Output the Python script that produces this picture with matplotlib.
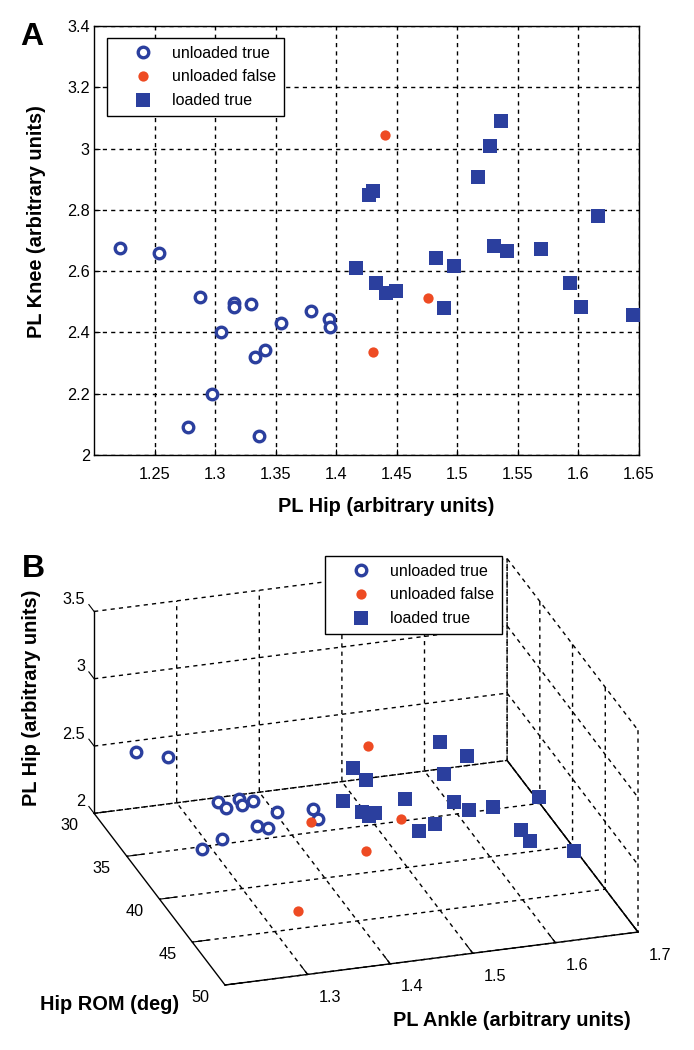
import matplotlib
matplotlib.use("Agg")
import matplotlib.pyplot as plt
from matplotlib.lines import Line2D
from mpl_toolkits.mplot3d import proj3d

W, H = 694, 1050
BLUE = '#2B3F9E'
RED = '#EE4B23'

# Panel A
hip_true = [1.2215, 1.254, 1.2876, 1.316, 1.316, 1.33, 1.305, 1.354, 1.379, 1.394, 1.395, 1.333, 1.341, 1.2975, 1.278, 1.336]
knee_true = [2.675, 2.66, 2.515, 2.495, 2.483, 2.493, 2.40, 2.43, 2.47, 2.444, 2.418, 2.32, 2.343, 2.2, 2.091, 2.062]
hip_false = [1.44, 1.476, 1.43]
knee_false = [3.044, 2.512, 2.336]
hip_load = [1.536, 1.527, 1.517, 1.4306, 1.427, 1.616, 1.416, 1.4826, 1.4975, 1.53, 1.541, 1.569, 1.593, 1.6025, 1.645, 1.489, 1.433, 1.441, 1.4496]
knee_load = [3.09, 3.01, 2.907, 2.862, 2.85, 2.78, 2.61, 2.643, 2.617, 2.682, 2.666, 2.672, 2.561, 2.483, 2.457, 2.48, 2.561, 2.529, 2.535]

# Panel B
ankle_b_true = [1.2215, 1.254, 1.2876, 1.316, 1.316, 1.33, 1.305, 1.354, 1.394, 1.395, 1.333, 1.341, 1.2975, 1.278]
rom_b_true = [33.7, 34.4, 37.8, 37.5, 38.0, 37.9, 36.9, 38.5, 38.9, 39.6, 38.1, 38.8, 37.3, 36.6]
pl_b_true = [2.675, 2.66, 2.515, 2.495, 2.483, 2.493, 2.40, 2.43, 2.444, 2.418, 2.32, 2.343, 2.2, 2.091]
ankle_b_false = [1.379, 1.336, 1.44, 1.476, 1.43]
rom_b_false = [40.55, 44.0, 41.5, 42.1, 42.5]
pl_b_false = [2.47, 2.062, 3.044, 2.512, 2.336]
rom_b_load = [44.6, 41.6, 43.5, 42.5, 40.9, 45.4, 40.8, 41.9, 44.6, 43.4, 44.3, 44.4, 45.6, 45.8, 47.1, 43.2, 41.5, 41.6, 41.4]

labels = ['unloaded true', 'unloaded false', 'loaded true']
styles = [dict(marker='o', ms=7.6, mew=2.4, mfc='white', mec=BLUE),
          dict(marker='o', ms=7.4, mew=0, mfc=RED, mec=RED),
          dict(marker='s', ms=9.4, mew=0, mfc=BLUE, mec=BLUE)]

plt.rcParams['font.family'] = ['Liberation Sans', 'DejaVu Sans']
plt.rcParams['font.size'] = 11.7
plt.rcParams['grid.color'] = 'black'
plt.rcParams['grid.linestyle'] = (0, (3, 3))
plt.rcParams['grid.linewidth'] = 1.0
plt.rcParams['axes.linewidth'] = 1.0

fig = plt.figure(figsize=(W / 100, H / 100), dpi=100)


def add_legend(ax, x, y):
    handles = [Line2D([], [], ls='none', **s) for s in styles]
    leg = ax.legend(handles, labels, loc='upper left', bbox_to_anchor=(x / W, 1 - y / H),
                    bbox_transform=fig.transFigure, borderaxespad=0, fancybox=False,
                    framealpha=1, edgecolor='black', fontsize=11.5, labelspacing=0.55,
                    handlelength=3.5, handletextpad=0.12, borderpad=0.48)
    leg.get_frame().set_linewidth(1.0)
    leg.set_zorder(20)


# A
ax = fig.add_axes([94 / W, 1 - 455 / H, (639 - 94) / W, (455 - 26) / H])
for xs, ys, s in zip([hip_true, hip_false, hip_load], [knee_true, knee_false, knee_load], styles):
    ax.plot(xs, ys, ls='none', zorder=3, clip_on=False, **s)
ax.set_xlim(1.2, 1.65)
ax.set_ylim(2, 3.4)
ax.set_xticks([1.25, 1.3, 1.35, 1.4, 1.45, 1.5, 1.55, 1.6, 1.65])
ax.set_xticklabels(['1.25', '1.3', '1.35', '1.4', '1.45', '1.5', '1.55', '1.6', '1.65'])
ax.set_yticks([2, 2.2, 2.4, 2.6, 2.8, 3, 3.2, 3.4])
ax.set_yticklabels(['2', '2.2', '2.4', '2.6', '2.8', '3', '3.2', '3.4'])
ax.tick_params(direction='in', length=4, width=0.8)
ax.tick_params(axis='x', pad=8.5)
ax.tick_params(axis='y', pad=3)
ax.grid(True)
ax.set_axisbelow(True)
add_legend(ax, 107, 38)

# B, orthographic view like the original
ankle_ticks = [1.3, 1.4, 1.5, 1.6, 1.7]
rom_ticks = [30, 35, 40, 45, 50]
pl_ticks = [2, 2.5, 3, 3.5]
ax3 = fig.add_axes([0.0, 0.0, 0.9, 0.6], projection='3d', proj_type='ortho', computed_zorder=False)
ax3.set_facecolor('none')
ax3.view_init(elev=24.2, azim=-107.36)
ax3.set_box_aspect((433, 439, 221.5))
ax3.set_xlim(1.2, 1.7, view_margin=0)
ax3.set_ylim(50, 30, view_margin=0)
ax3.set_zlim(2, 3.5, view_margin=0)
ax3.set_xticks(ankle_ticks)
ax3.set_yticks(rom_ticks)
ax3.set_zticks(pl_ticks)
ax3.set_xticklabels([])
ax3.set_yticklabels([])
ax3.set_zticklabels([])
for a in (ax3.xaxis, ax3.yaxis, ax3.zaxis):
    a.set_pane_color((1, 1, 1, 0))
    a.pane.set_edgecolor('none')
    a.line.set_color('black')
    a.line.set_linewidth(1.0)
    a._axinfo['tick']['color'] = 'black'
    a._axinfo['tick']['inward_factor'] = 0
    a._axinfo['tick']['outward_factor'] = 0.5
ax3.zaxis.set_ticks_position('lower')
ax3.plot([1.7, 1.7], [30, 50], [2, 2], color='black', lw=1.0)
for xs, ys, zs, s in zip([ankle_b_true, ankle_b_false, hip_load], [rom_b_true, rom_b_false, rom_b_load],
                         [pl_b_true, pl_b_false, knee_load], styles):
    ax3.plot(xs, ys, zs, ls='none', zorder=5, **s)
add_legend(ax3, 325, 556)


# fit the box onto the picture: (1.2, 50, 2) at 225,985 and (1.7, 50, 2) at 638,932
def corner_px(x, y, z):
    xp, yp, _ = proj3d.proj_transform(x, y, z, ax3.get_proj())
    return ax3.transData.transform((xp, yp))


fig.canvas.draw()
p0 = corner_px(1.2, 50, 2)
p1 = corner_px(1.7, 50, 2)
scale = 413 / (p1[0] - p0[0])
pos = ax3.get_position()
side = pos.width * W * scale
c = ((pos.x0 + pos.width / 2) * W, (pos.y0 + pos.height / 2) * H)
new_c = (225 + (c[0] - p0[0]) * scale, (H - 985) + (c[1] - p0[1]) * scale)
ax3.set_position([(new_c[0] - side / 2) / W, (new_c[1] - side / 2) / H, side / W, side / H])
fig.canvas.draw()

# tick labels in the places matlab put them
for t in ankle_ticks:
    p = corner_px(t, 50, 2)
    fig.text((p[0] + 22) / W, (p[1] - 23) / H, str(t), ha='center', va='center')
for t in rom_ticks:
    p = corner_px(1.2, t, 2)
    fig.text((p[0] - 25) / W, (p[1] - 12) / H, str(t), ha='center', va='center')
for t in pl_ticks:
    p = corner_px(1.2, 30, t)
    fig.text((p[0] - 9) / W, (p[1] + 12) / H, str(t), ha='right', va='center')

lab = dict(fontsize=14.4, fontweight='bold', ha='center', va='center')
fig.text(386 / W, 1 - 507 / H, 'PL Hip (arbitrary units)', **lab)
fig.text(37 / W, 1 - 221.5 / H, 'PL Knee (arbitrary units)', rotation=90, **lab)
fig.text(32 / W, 1 - 698 / H, 'PL Hip (arbitrary units)', rotation=90, **lab)
fig.text(110 / W, 1 - 1004 / H, 'Hip ROM (deg)', **lab)
fig.text(512 / W, 1 - 1020 / H, 'PL Ankle (arbitrary units)', **lab)
fig.text(32 / W, 1 - 37 / H, 'A', fontsize=23, fontweight='bold', ha='center', va='center')
fig.text(33 / W, 1 - 569 / H, 'B', fontsize=23, fontweight='bold', ha='center', va='center')

fig.savefig('out.png', dpi=100)
